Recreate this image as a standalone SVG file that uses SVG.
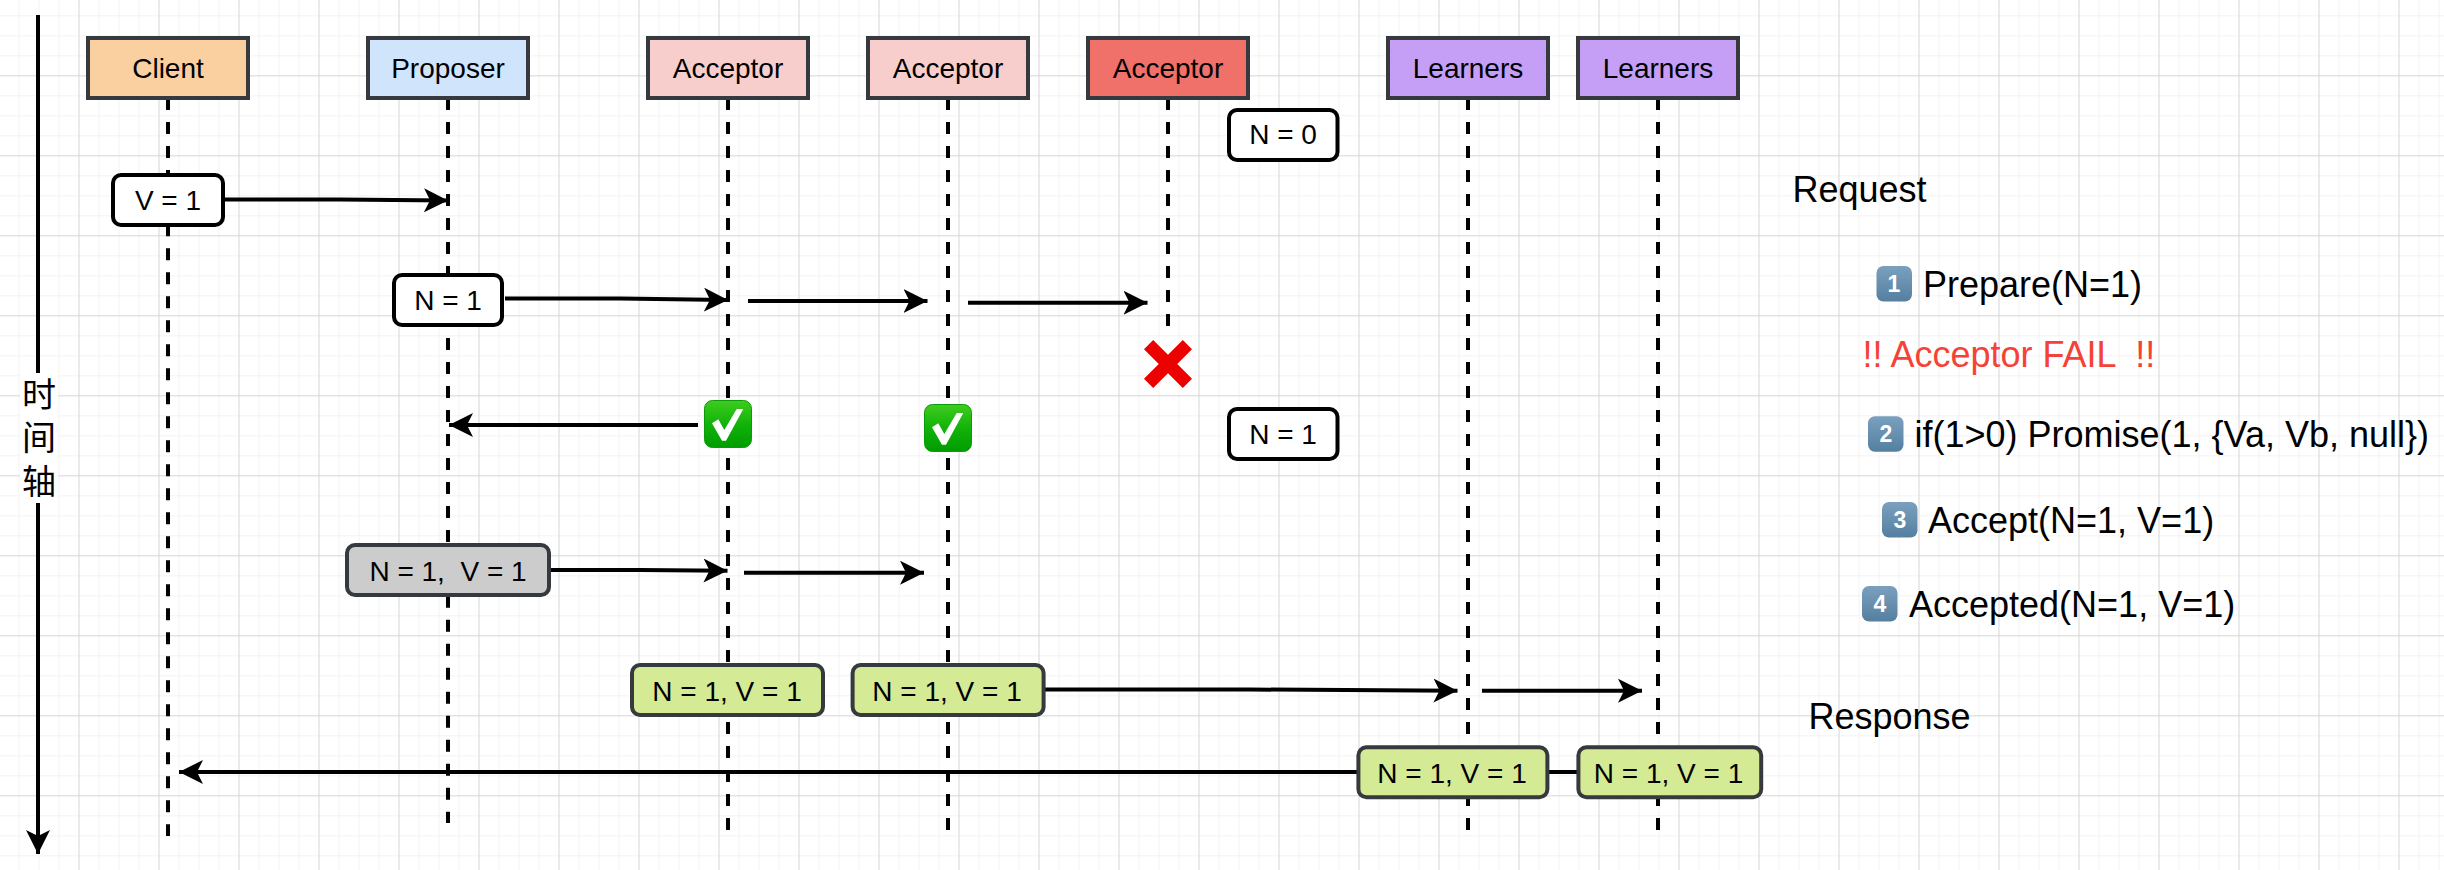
<svg xmlns="http://www.w3.org/2000/svg" width="2444" height="870" viewBox="0 0 2444 870">
<defs>
<pattern id="minor" width="20" height="20" patternUnits="userSpaceOnUse" x="-1.5" y="-4.7"><path d="M20 0H0V20" fill="none" stroke="#f3f3f3" stroke-width="2"/></pattern>
<pattern id="major" width="80" height="80" patternUnits="userSpaceOnUse" x="-1.5" y="-4.7"><path d="M80 0H0V80" fill="none" stroke="#d2d2d2" stroke-width="1.5"/></pattern>
<marker id="arrow" markerUnits="userSpaceOnUse" markerWidth="30" markerHeight="30" refX="24" refY="12" orient="auto"><path d="M0 0L24 12L0 24L6 12Z" fill="#000"/></marker>
<linearGradient id="key" x1="0" y1="0" x2="0" y2="1"><stop offset="0" stop-color="#7ba0bf"/><stop offset="1" stop-color="#557f9f"/></linearGradient>
<linearGradient id="grn" x1="0" y1="0" x2="0" y2="1"><stop offset="0" stop-color="#3fcc1e"/><stop offset="0.5" stop-color="#12b30a"/><stop offset="1" stop-color="#009c00"/></linearGradient>
<g id="tick"><rect x="0.500" y="0.500" width="47" height="47" rx="8" fill="url(#grn)" stroke="#0a9a0a" stroke-width="1"/><path d="M8 23.300L14.300 19.300L20.300 30L32.700 9L39.300 9L22 40.700L18 40.700Z" fill="#fff"/></g>
</defs>
<style>
text{font-family:"Liberation Sans",Arial,"Noto Sans CJK SC",sans-serif;font-size:28px;text-anchor:middle;fill:#000;white-space:pre}
.head{stroke:#36393d;stroke-width:4}
.box{fill:#fff;stroke:#000;stroke-width:4}
.grn{fill:#d4ea94;stroke:#36393d;stroke-width:4}
.life{fill:none;stroke:#000;stroke-width:4;stroke-dasharray:12 12}
.conn{fill:none;stroke:#000;stroke-width:4;marker-end:url(#arrow)}
.side{font-size:36px;text-anchor:start}
.key{fill:url(#key)}
.digit{fill:#fff;font-size:23px;font-weight:bold}
</style>
<rect width="2444" height="870" fill="#fff"/>
<rect width="2444" height="870" fill="url(#minor)"/>
<rect width="2444" height="870" fill="url(#major)"/>
<g id="connectors">
<path class="life" d="M168 98V175"/><path class="life" d="M168 224.300V836"/>
<path class="life" d="M448 98V545"/><path class="life" d="M448 595.700V823"/>
<path class="life" d="M728 98V830"/><path class="life" d="M948 98V830"/><path class="life" d="M1168 98V326"/><path class="life" d="M1468 98V830"/><path class="life" d="M1658 98V830"/>
<path class="conn" d="M225 199.500L340 199.500L448 200.500"/>
<path class="conn" d="M505 298.500L620 298.500L728 300"/>
<path class="conn" d="M748 301H927.500"/>
<path class="conn" d="M968 302.700H1147.500"/>
<path class="conn" d="M698 425H449"/>
<path class="conn" d="M551 570L640 570L727.500 570.700"/>
<path class="conn" d="M744 572.700H924"/>
<path class="conn" d="M1045 689.500L1250 689.500L1457.500 690.700"/>
<path class="conn" d="M1482 690.700H1642"/>
<path class="conn" d="M1357 772H179"/>
<path d="M1549 772H1577" stroke="#000" stroke-width="4"/>
<path class="conn" d="M38 15V854"/>
</g>
<g id="axis-label"><rect x="20" y="373" width="38" height="130" fill="#fff"/><text x="39" y="407" style="font-size:34px">时</text><text x="39" y="450" style="font-size:34px">间</text><text x="39" y="494" style="font-size:34px">轴</text></g>
<g id="client"><rect class="head" x="88" y="38" width="160" height="60" fill="#fad0a0"/><text x="168" y="78">Client</text></g>
<g id="proposer"><rect class="head" x="368" y="38" width="160" height="60" fill="#d0e4fc"/><text x="448" y="78">Proposer</text></g>
<g id="acceptor1"><rect class="head" x="648" y="38" width="160" height="60" fill="#f8cecc"/><text x="728" y="78">Acceptor</text></g>
<g id="acceptor2"><rect class="head" x="868" y="38" width="160" height="60" fill="#f8cecc"/><text x="948" y="78">Acceptor</text></g>
<g id="acceptor3"><rect class="head" x="1088" y="38" width="160" height="60" fill="#f0706a"/><text x="1168" y="78">Acceptor</text></g>
<g id="learners1"><rect class="head" x="1388" y="38" width="160" height="60" fill="#c59ef6"/><text x="1468" y="78">Learners</text></g>
<g id="learners2"><rect class="head" x="1578" y="38" width="160" height="60" fill="#c59ef6"/><text x="1658" y="78">Learners</text></g>
<g id="n0"><rect class="box" x="1229" y="110" width="108.500" height="50" rx="8"/><text x="1283" y="144">N = 0</text></g>
<g id="v1"><rect class="box" x="113" y="175" width="110" height="50" rx="8"/><text x="168" y="210">V = 1</text></g>
<g id="n1a"><rect class="box" x="394" y="275" width="108" height="50" rx="8"/><text x="448" y="310">N = 1</text></g>
<g id="n1b"><rect class="box" x="1229" y="409" width="108.500" height="50" rx="8"/><text x="1283" y="444">N = 1</text></g>
<g id="nv-grey"><rect x="347" y="545" width="202" height="50" rx="8" fill="#ccc" stroke="#36393d" stroke-width="4"/><text x="448" y="580.500">N = 1,  V = 1</text></g>
<g id="nv1"><rect class="grn" x="632" y="665" width="191" height="50" rx="8"/><text x="727" y="700.500">N = 1, V = 1</text></g>
<g id="nv2"><rect class="grn" x="852.600" y="665" width="191" height="50" rx="8"/><text x="947" y="700.500">N = 1, V = 1</text></g>
<g id="nv3"><rect class="grn" x="1358.400" y="747.300" width="189" height="50" rx="8"/><text x="1452" y="782.700">N = 1, V = 1</text></g>
<g id="nv4"><rect class="grn" x="1578.400" y="747.300" width="182.800" height="50" rx="8"/><text x="1668.500" y="782.700">N = 1, V = 1</text></g>
<g id="fail"><path d="M1148.600 344.600L1187.400 383.400M1187.400 344.600L1148.600 383.400" stroke="#ed0000" stroke-width="13"/></g>
<g id="check1"><use href="#tick" x="704" y="400"/></g>
<g id="check2"><use href="#tick" x="924" y="404"/></g>
<g id="notes">
<text class="side" x="1792.500" y="201.500">Request</text>
<rect class="key" x="1876.500" y="266" width="35.500" height="35.500" rx="7"/><text class="digit" x="1894" y="292">1</text><text class="side" x="1923" y="297.300">Prepare(N=1)</text>
<text class="side" x="1862.500" y="367.300" style="fill:#f44336">!! Acceptor FAIL  !!</text>
<rect class="key" x="1868" y="416.300" width="35.500" height="35.500" rx="7"/><text class="digit" x="1886" y="442.300">2</text><text class="side" x="1914.500" y="447">if(1&gt;0) Promise(1, {Va, Vb, null})</text>
<rect class="key" x="1882" y="502" width="35.500" height="35.500" rx="7"/><text class="digit" x="1900" y="528">3</text><text class="side" x="1928" y="533">Accept(N=1, V=1)</text>
<rect class="key" x="1862" y="586" width="35.500" height="35.500" rx="7"/><text class="digit" x="1880" y="612">4</text><text class="side" x="1909" y="617.300">Accepted(N=1, V=1)</text>
<text class="side" x="1808.500" y="729.300">Response</text>
</g>
</svg>
